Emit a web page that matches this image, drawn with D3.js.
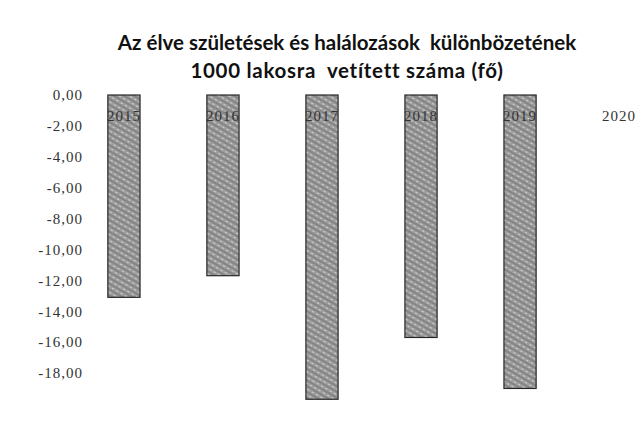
<!DOCTYPE html>
<html lang="hu">
<head>
    <meta charset="UTF-8">
    <title>Természetes fogyás</title>
    <script src="https://d3js.org/d3.v7.min.js"></script>
    <style>
        body, html {
            margin: 0;
            padding: 0;
            overflow: hidden;
            background: #fff;
        }
        svg {
            display: block;
        }
        .title {
            font-family: Lato, "Open Sans", sans-serif;
            font-weight: bold;
            font-size: 20.5px;
            fill: #111;
            white-space: pre;
        }
        .axis text {
            font-family: "Liberation Serif", "DejaVu Serif", serif;
            font-size: 15px;
            letter-spacing: 1px;
            fill: #333;
        }
        .bar {
            stroke: #262626;
            stroke-width: 1.2;
        }
    </style>
</head>
<body>
<svg width="640" height="424"></svg>

<script>
    const years = ['2015', '2016', '2017', '2018', '2019', '2020'];
    // (the scan's bars run past its -18 mark)
    const values = [-13.1, -11.7, -19.7, -15.7, -19.0, null];
    const yTicks = [0, -2, -4, -6, -8, -10, -12, -14, -16, -18];
    const titleLines = [
        'Az élve születések és halálozások  különbözetének',
        '1000 lakosra  vetített száma (fő)'
    ];

    const svg = d3.select('svg');

    // grainy grey fill, like the scanned original
    const defs = svg.append('defs');
    const pat = defs.append('pattern')
        .attr('id', 'hatch')
        .attr('width', 5)
        .attr('height', 5)
        .attr('patternUnits', 'userSpaceOnUse')
        .attr('patternTransform', 'rotate(30)');
    pat.append('rect').attr('width', 5).attr('height', 5).attr('fill', '#9e9e9e');
    pat.append('line').attr('x1', 0).attr('y1', 1).attr('x2', 5).attr('y2', 1)
        .attr('stroke', '#6c6c6c').attr('stroke-width', 1);
    pat.append('rect').attr('x', 1).attr('y', 3).attr('width', 2).attr('height', 1)
        .attr('fill', '#d2d2d2');

    const x = d3.scaleBand()
        .domain(years)
        .range([41, 702])
        .padding(0.675);

    const y = d3.scaleLinear()
        .domain([0, -18])
        .range([95, 373]);

    const huLocale = d3.formatLocale({
        decimal: ',', thousands: ' ', grouping: [3], currency: ['', ''], minus: '-'
    });
    const fmt = huLocale.format('.2f');

    svg.append('text')
        .attr('class', 'title')
        .attr('text-anchor', 'middle')
        .selectAll('tspan')
        .data(titleLines)
        .enter().append('tspan')
        .attr('x', 347)
        .attr('y', (d, i) => 50 + i * 28)
        .attr('letter-spacing', (d, i) => i === 1 ? 0.7 : 0)
        .text(d => d);

    const data = years.map((yr, i) => ({ year: yr, value: values[i] }))
        .filter(d => d.value !== null);

    svg.append('g')
        .selectAll('rect')
        .data(data)
        .enter().append('rect')
        .attr('class', 'bar')
        .attr('x', d => x(d.year))
        .attr('width', x.bandwidth())
        .attr('y', y(0))
        .attr('height', d => y(d.value) - y(0))
        .attr('fill', 'url(#hatch)');

    const yAxis = svg.append('g')
        .attr('class', 'axis')
        .attr('transform', 'translate(83,0)')
        .call(d3.axisLeft(y).tickValues(yTicks).tickFormat(fmt).tickSize(0).tickPadding(0));
    yAxis.select('.domain').remove();

    const xAxis = svg.append('g')
        .attr('class', 'axis')
        .attr('transform', `translate(0,${y(0)})`)
        .call(d3.axisBottom(x).tickSize(0).tickPadding(15));
    xAxis.select('.domain').remove();
</script>
</body>
</html>
